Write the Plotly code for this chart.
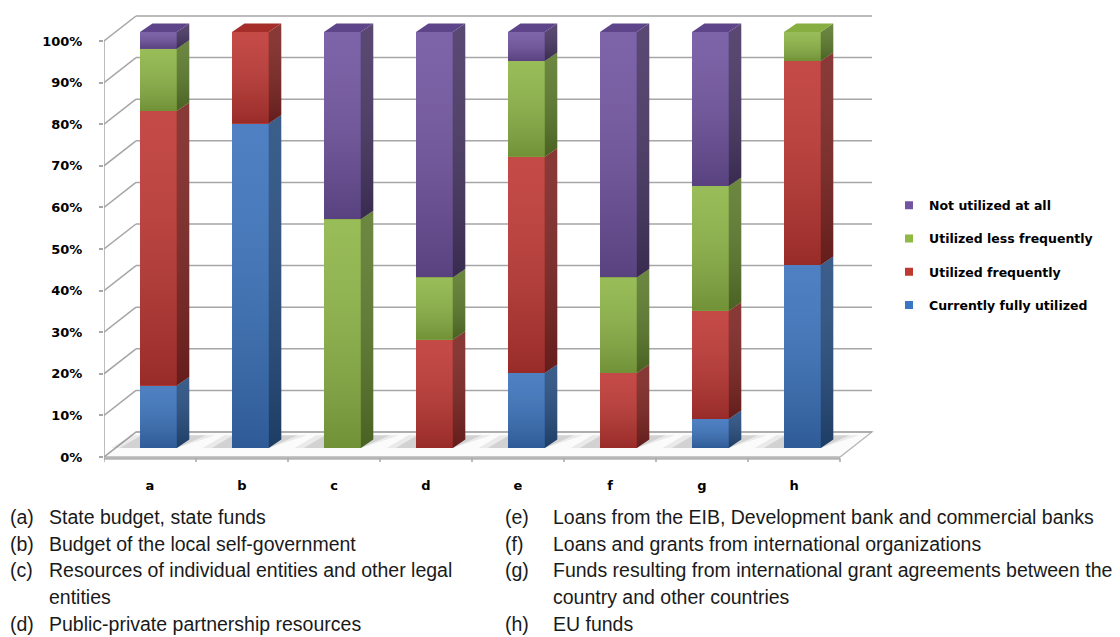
import plotly.graph_objects as go

# ---- data -------------------------------------------------------------
categories = ["a", "b", "c", "d", "e", "f", "g", "h"]
series_names = ["Currently fully utilized", "Utilized frequently",
                "Utilized less frequently", "Not utilized at all"]
fully_utilized = [15, 78, 0, 0, 18, 0, 7, 44]
utilized_frequently = [66, 22, 0, 26, 52, 18, 26, 49]
utilized_less = [15, 0, 55, 15, 23, 23, 30, 7]
not_utilized = [4, 0, 45, 59, 7, 59, 37, 0]
y_ticks = [0, 10, 20, 30, 40, 50, 60, 70, 80, 90, 100]

notes_left = [("(a)", "State budget, state funds"),
              ("(b)", "Budget of the local self-government"),
              ("(c)", "Resources of individual entities and other legal"),
              ("", "entities"),
              ("(d)", "Public-private partnership resources")]
notes_right = [("(e)", "Loans from the EIB, Development bank and commercial banks"),
               ("(f)", "Loans and grants from international organizations"),
               ("(g)", "Funds resulting from international grant agreements between the"),
               ("", "country and other countries"),
               ("(h)", "EU funds")]

# ---- styling ----------------------------------------------------------
front_colors = ["#3A72BC", "#BE3632", "#8DB545", "#6F529F"]
side_colors = ["#254C7E", "#7C2421", "#5B7A2B", "#473563"]
top_colors = ["#3466A8", "#A52E2B", "#86AE40", "#5E4589"]
legend_colors = ["#3A76C2", "#C0392F", "#8FB845", "#7354A2"]

W, H = 1120, 637
PLOT_L, PLOT_R, PLOT_T, PLOT_B = 104, 880, 10, 470
PX_PER_CAT = 92.0
PX_PER_PCT = 4.16
ZERO_PX = 457.0

# oblique depth of the 3D box (in data units)
DEPTH_X = 32 / PX_PER_CAT
DEPTH_Y = 25 / PX_PER_PCT
# bars sit a little way into the box
LIFT = 9 / PX_PER_PCT
BAR_OFFSET = -0.109
BAR_WIDTH = 0.40
SIDE_X = 12.5 / PX_PER_CAT
SIDE_Y = 8.5 / PX_PER_PCT

x_min = -0.5
x_max = x_min + (PLOT_R - PLOT_L) / PX_PER_CAT
y_min = (ZERO_PX - PLOT_B) / PX_PER_PCT
y_max = (ZERO_PX - PLOT_T) / PX_PER_PCT
n = len(categories)

grid_col = "#A6A6A6"
shade = [[0, "rgba(0,0,0,0.20)"], [1, "rgba(255,255,255,0.10)"]]

fig = go.Figure()
shapes = []

# floor of the box
floor_path = (f"M {x_min},0 L {x_min + n},0 L {x_min + n + DEPTH_X},{DEPTH_Y} "
              f"L {x_min + DEPTH_X},{DEPTH_Y} Z")
shapes.append(dict(type="path", path=floor_path, fillcolor="#FBFBFB",
                   line=dict(color="#B5B5B5", width=1.3), layer="below"))
shapes.append(dict(type="line", x0=x_min, x1=x_min + n, y0=-0.35, y1=-0.35,
                   line=dict(color="#B3B3B3", width=2.5), layer="below"))

# back wall and side wall gridlines
for v in y_ticks:
    shapes.append(dict(type="line", x0=x_min + DEPTH_X, x1=x_min + n + DEPTH_X,
                       y0=v + DEPTH_Y, y1=v + DEPTH_Y,
                       line=dict(color=grid_col, width=1.5), layer="below"))
    shapes.append(dict(type="line", x0=x_min, x1=x_min + DEPTH_X,
                       y0=v, y1=v + DEPTH_Y,
                       line=dict(color=grid_col, width=1.5), layer="below"))
# value axis edge
shapes.append(dict(type="line", x0=x_min, x1=x_min, y0=0, y1=y_ticks[-1],
                   line=dict(color=grid_col, width=1.5), layer="below"))
# category separators below the floor
for k in range(n + 1):
    shapes.append(dict(type="line", x0=x_min + k, x1=x_min + k, y0=-0.35,
                       y1=-5 / PX_PER_PCT,
                       line=dict(color=grid_col, width=1.5), layer="below"))

# soft shadows on the floor behind each bar
for i in range(n):
    xl = i + BAR_OFFSET
    xr = xl + BAR_WIDTH
    for grow, alpha in ((0.10, 0.10), (0.0, 0.16)):
        p = (f"M {xl - 0.22 - grow},{LIFT} L {xr},{LIFT} "
             f"L {xr + SIDE_X + 0.18 + grow},{LIFT + SIDE_Y + 1.0} "
             f"L {xl + SIDE_X - 0.12 - grow},{LIFT + SIDE_Y + 1.0} Z")
        shapes.append(dict(type="path", path=p, fillcolor=f"rgba(90,90,90,{alpha})",
                           line=dict(width=0), layer="below"))

series_values = [fully_utilized, utilized_frequently, utilized_less, not_utilized]

# front faces of the stacked columns
cum = [0.0] * n
bases = []
for s, vals in enumerate(series_values):
    bases.append(list(cum))
    fig.add_trace(go.Bar(
        x=list(range(n)), y=vals, base=[LIFT + c for c in cum],
        offset=BAR_OFFSET, width=BAR_WIDTH,
        marker=dict(color=front_colors[s], line=dict(width=0)),
        name=series_names[s], showlegend=False))
    cum = [c + v for c, v in zip(cum, vals)]

# shading, side and top faces
for s, vals in enumerate(series_values):
    for i in range(n):
        if vals[i] <= 0:
            continue
        lo = LIFT + bases[s][i]
        hi = lo + vals[i]
        xl = i + BAR_OFFSET
        xr = xl + BAR_WIDTH
        # vertical shading over the front face
        fig.add_trace(go.Scatter(
            x=[xl, xr, xr, xl, xl], y=[lo, lo, hi, hi, lo],
            fill="toself", mode="none",
            fillgradient=dict(type="vertical", colorscale=shade),
            hoverinfo="skip", showlegend=False))
        fig.add_trace(go.Scatter(
            x=[xr, xr + SIDE_X, xr + SIDE_X, xr, xr],
            y=[lo, lo + SIDE_Y, hi + SIDE_Y, hi, lo],
            fill="toself", fillcolor=side_colors[s], mode="lines",
            line=dict(width=0, color=side_colors[s]),
            hoverinfo="skip", showlegend=False))
        fig.add_trace(go.Scatter(
            x=[xr, xr + SIDE_X, xr + SIDE_X, xr, xr],
            y=[lo, lo + SIDE_Y, hi + SIDE_Y, hi, lo],
            fill="toself", mode="none",
            fillgradient=dict(type="vertical", colorscale=shade),
            hoverinfo="skip", showlegend=False))
        is_top = all(series_values[t][i] <= 0 for t in range(s + 1, len(series_values)))
        if is_top:
            fig.add_trace(go.Scatter(
                x=[xl, xr, xr + SIDE_X, xl + SIDE_X, xl],
                y=[hi, hi, hi + SIDE_Y, hi + SIDE_Y, hi],
                fill="toself", fillcolor=top_colors[s], mode="lines",
                line=dict(width=0, color=top_colors[s]),
                hoverinfo="skip", showlegend=False))

# legend entries (top to bottom: not utilized ... fully utilized)
for s in reversed(range(len(series_names))):
    fig.add_trace(go.Scatter(
        x=[None], y=[None], mode="markers", name=series_names[s],
        legendgroup=series_names[s], legendrank=len(series_names) - s,
        marker=dict(symbol="square", size=8, color=legend_colors[s])))


def px_to_paper_x(px):
    return (px - PLOT_L) / (PLOT_R - PLOT_L)


def px_to_paper_y(py):
    return (PLOT_B - py) / (PLOT_B - PLOT_T)


annotations = []
note_font = dict(family="Liberation Sans, Arial, sans-serif", size=19.5, color="#1a1a1a")
row_y = [517, 544, 570, 597, 624]
for col_x, text_x, notes in ((8, 47, notes_left), (503, 551, notes_right)):
    for (tag, text), py in zip(notes, row_y):
        if tag:
            annotations.append(dict(text=tag, x=px_to_paper_x(col_x), y=px_to_paper_y(py),
                                    xref="paper", yref="paper", xanchor="left",
                                    yanchor="middle", showarrow=False, font=note_font))
        annotations.append(dict(text=text, x=px_to_paper_x(text_x), y=px_to_paper_y(py),
                                xref="paper", yref="paper", xanchor="left",
                                yanchor="middle", showarrow=False, font=note_font))

bold_font = "DejaVu Sans, Verdana, sans-serif"

fig.update_layout(
    width=W, height=H, autosize=False,
    margin=dict(l=PLOT_L, r=W - PLOT_R, t=PLOT_T, b=H - PLOT_B, pad=0),
    paper_bgcolor="white", plot_bgcolor="white",
    barmode="overlay", bargap=0,
    shapes=shapes, annotations=annotations,
    showlegend=True,
    legend=dict(x=px_to_paper_x(889), y=px_to_paper_y(255), xanchor="left",
                yanchor="middle", traceorder="grouped", tracegroupgap=14,
                font=dict(family=bold_font, size=12.5, color="black", weight="bold"),
                bgcolor="rgba(0,0,0,0)", itemwidth=30),
    xaxis=dict(range=[x_min, x_max], tickvals=list(range(n)), ticktext=categories,
               showgrid=False, zeroline=False, showline=False, ticks="",
               ticklabelstandoff=6,
               tickfont=dict(family=bold_font, size=13, color="black", weight="bold"),
               fixedrange=True),
    yaxis=dict(range=[y_min, y_max], tickvals=y_ticks,
               ticktext=[f"{v}%" for v in y_ticks],
               showgrid=False, zeroline=False, showline=False,
               ticks="outside", ticklen=4, tickcolor=grid_col, tickwidth=1.5,
               ticklabelstandoff=14,
               tickfont=dict(family=bold_font, size=13, color="black", weight="bold"),
               fixedrange=True),
)

fig.write_html("out.html")
